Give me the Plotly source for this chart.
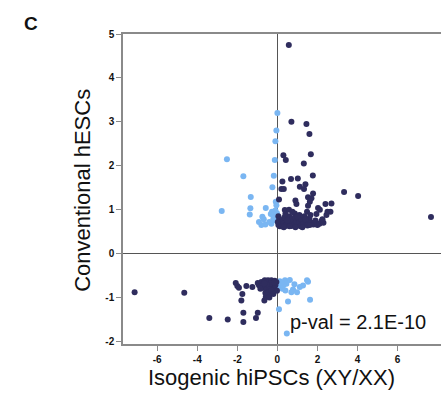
import plotly.graph_objects as go

dark_upper_x = [0.57,0.7,1.45,1.6,1.67,0.3,0.42,1.32,1.77,0.68,1.02,0.25,1.12,1.4,1.33,0.2,0.32,3.33,4.03,1.78,1.53,1.7,0.08,0.9,0.95,1.62,2.4,2.7,2.03,2.12,1.53,0.37,0.58,2.5,2.65,2.45,0.87,1.48,7.67,
                0.05,0.1,0.15,0.2,0.25,0.3,0.35,0.4,0.45,0.5,0.55,0.6,0.65,0.7,0.75,0.8,0.85,0.9,0.95,1.0,1.05,1.1,1.15,1.2,1.3,1.35,1.45,1.5,1.6,1.7,1.8,1.9,2.0,2.1,2.2,2.3,
                0.05,0.12,0.22,0.32,0.6,0.9,1.25,1.62,0.4,0.75,1.1,1.65,1.95,0.02,0.5,1.0,1.4,2.25]
dark_upper_y = [4.75,3.0,2.95,2.72,2.26,2.24,2.13,2.05,1.78,1.70,1.71,1.64,1.52,1.58,1.47,1.47,1.47,1.4,1.31,1.37,1.28,1.26,1.23,1.21,1.13,1.18,1.13,1.14,1.04,1.0,1.09,0.99,1.0,0.95,0.95,0.88,0.91,0.95,0.83,
                0.85,0.78,0.7,0.65,0.75,0.68,0.82,0.63,0.72,0.66,0.78,0.85,0.7,0.63,0.8,0.74,0.67,0.82,0.72,0.65,0.79,0.7,0.62,0.77,0.68,0.85,0.72,0.64,0.8,0.7,0.66,0.75,0.65,0.68,0.74,0.7,
                0.65,0.62,0.62,0.6,0.62,0.6,0.6,0.65,0.9,0.95,0.88,0.88,0.9,0.72,0.75,0.85,0.78,0.78]

light_upper_x = [0.0,-0.05,-0.1,-0.13,-2.52,-1.7,-0.18,-0.25,-1.33,-0.08,-0.05,-1.35,-0.58,-1.38,-2.78,-0.27,-0.33,-0.18,-0.1,-0.75,-0.68,-0.92,-0.8,-0.6,-0.3,-0.05,-0.12,-0.2,-0.4,-0.02]
light_upper_y = [3.2,2.8,2.56,2.13,2.15,1.76,1.77,1.51,1.29,1.18,1.1,1.03,1.04,0.89,0.97,0.95,0.9,0.88,0.98,0.84,0.78,0.72,0.65,0.66,0.68,0.84,0.76,0.8,0.72,0.92]

dark_lower_x = [-7.13,-4.65,-3.4,-2.48,-1.7,-1.7,-0.98,-1.07,-1.8,-1.75,-2.08,-2.0,-1.92,-1.55,-1.25,-0.98,-0.92,-0.65,-0.58,-0.47,-0.8,-0.63,-0.47,-0.3,-0.13,-0.05,-0.7,-0.55,-0.4,-0.25,-0.15,-0.6,-0.45,-0.3,-0.2,-0.1,-0.35,-0.55,-0.02,-0.75,-0.4,-0.85,-0.15,-0.65]
dark_lower_y = [-0.88,-0.89,-1.47,-1.5,-1.56,-1.35,-1.35,-1.47,-1.07,-0.92,-0.67,-0.74,-0.78,-0.74,-0.76,-0.67,-0.72,-1.07,-0.99,-0.95,-0.65,-0.61,-0.61,-0.61,-0.62,-0.65,-0.78,-0.82,-0.75,-0.7,-0.8,-0.9,-0.88,-0.85,-0.92,-0.72,-0.68,-0.7,-0.85,-0.72,-1.0,-0.8,-0.66,-0.68]

light_lower_x = [0.12,0.38,0.62,0.45,0.12,0.25,0.4,0.7,0.78,0.98,1.28,1.48,1.53,1.63,0.53,0.08,0.47,1.12,0.05,0.3,0.85,0.2]
light_lower_y = [-0.63,-0.61,-0.6,-0.69,-0.75,-0.8,-0.84,-0.88,-0.82,-0.88,-0.73,-0.61,-0.64,-1.05,-1.09,-1.27,-1.82,-0.76,-0.7,-0.72,-0.7,-0.66]

x_tickvals = [-6, -4, -2, 0, 2, 4, 6]
x_ticktext = ["-6", "-4", "-2", "0", "2", "4", "6"]
y_tickvals = [-2, -1, 0, 1, 2, 3, 4, 5]
y_ticktext = ["-2", "-1", "0", "1", "2", "3", "4", "5"]

DARK = "#2f2d5e"
LIGHT = "#7ab6f2"

fig = go.Figure()
for xs, ys, c in [(light_upper_x, light_upper_y, LIGHT), (light_lower_x, light_lower_y, LIGHT),
                  (dark_upper_x, dark_upper_y, DARK), (dark_lower_x, dark_lower_y, DARK)]:
    fig.add_trace(go.Scatter(x=xs, y=ys, mode="markers",
                             marker=dict(color=c, size=6, line=dict(width=0)),
                             showlegend=False, hoverinfo="skip", cliponaxis=False))

axis_common = dict(showgrid=False, zeroline=True, zerolinecolor="#555555", zerolinewidth=1,
                   showline=True, linecolor="#8a8a8a", linewidth=1.5,
                   ticks="outside", ticklen=5, tickcolor="#8a8a8a", tickwidth=1,
                   tickfont=dict(family="Arial, Liberation Sans", size=10, color="#111111", weight="bold"))

fig.update_xaxes(range=[-7.71, 8.17], tickvals=x_tickvals, ticktext=x_ticktext, mirror=True, **axis_common)
fig.update_yaxes(range=[-2.06, 5.0], tickvals=y_tickvals, ticktext=y_ticktext, **axis_common)

fig.update_layout(
    width=441, height=394,
    margin=dict(l=123, r=0, t=34, b=50),
    plot_bgcolor="white", paper_bgcolor="white",
    font=dict(family="Arial, Liberation Sans"),
    annotations=[
        dict(text="C", xref="paper", yref="paper", x=-0.288, y=1.035, xanchor="center", yanchor="middle",
             showarrow=False, font=dict(size=19, color="#111111", weight="bold")),
        dict(text="Conventional hESCs", xref="paper", yref="paper", x=-0.128, y=0.495,
             xanchor="center", yanchor="middle", textangle=-90, showarrow=False,
             font=dict(size=22, color="#111111")),
        dict(text="Isogenic hiPSCs (XY/XX)", xref="paper", yref="paper", x=0.468, y=-0.108,
             xanchor="center", yanchor="middle", showarrow=False,
             font=dict(size=22, color="#111111")),
        dict(text="p-val = 2.1E-10", xref="x", yref="y", x=0.55, y=-1.57,
             xanchor="left", yanchor="middle", showarrow=False,
             font=dict(size=20, color="#111111")),
    ],
)

fig.write_html("out.html", config={"displayModeBar": False},
               post_script="document.body.style.margin='0';document.body.style.padding='0';")
